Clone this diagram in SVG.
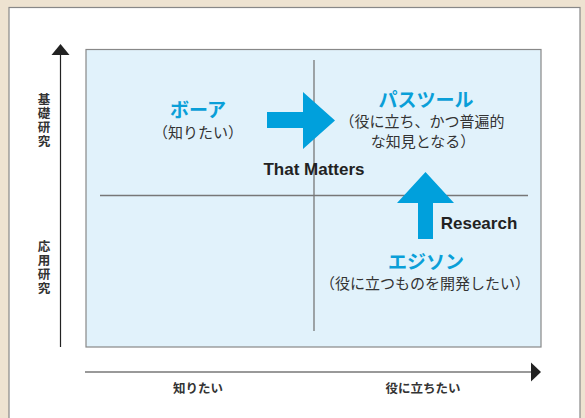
<svg xmlns="http://www.w3.org/2000/svg" width="585" height="418" viewBox="0 0 585 418">
<defs>
<style>
.jp{font-family:"Noto Sans CJK JP","Noto Sans",sans-serif;fill:#333}
.ax{font-size:12.5px;font-weight:bold}
.vt{writing-mode:vertical-rl;text-orientation:upright;letter-spacing:1.5px}
.ttl{font-size:19px;font-weight:bold;fill:#0a9fd8}
.sub{font-size:15px}
.en{font-family:"Liberation Sans",Arial,sans-serif;font-weight:bold;font-size:17px;fill:#222}
.ln{stroke:#777;stroke-width:1.3;fill:none}
.blue{fill:#00a0dc}
</style>
</defs>
<rect x="0" y="0" width="585" height="418" fill="#eee3d1"/>
<rect x="9" y="7.5" width="571" height="420" fill="#fff" stroke="#888" stroke-width="1.2"/>
<rect id="quad" x="86" y="49.5" width="455" height="297.5" fill="#e1f2fb" stroke="#888" stroke-width="1.2"/>
<g id="connectors">
<line class="ln" x1="314" y1="60" x2="314" y2="331"/>
<line class="ln" x1="100" y1="195.5" x2="528" y2="195.5"/>
<line x1="60.5" y1="54" x2="60.5" y2="347" stroke="#222" stroke-width="1.2"/>
<polygon points="60.5,44 51.5,55 69.5,55" fill="#222"/>
<line x1="85" y1="372" x2="532" y2="372" stroke="#777" stroke-width="1.5"/>
<polygon points="541,372 531,362.5 531,381.5" fill="#222"/>
<polygon id="arrowRight" class="blue" points="267,112 303,112 303,92 335,120.5 303,149 303,128 267,128"/>
<polygon id="arrowUp" class="blue" points="418,239 418,203 397,203 425.5,172 454,203 433,203 433,239"/>
</g>
<g id="yLabelTop"><text class="jp ax vt" x="44" y="93">基礎研究</text></g>
<g id="yLabelBottom"><text class="jp ax vt" x="44" y="240">応用研究</text></g>
<g id="xLabelLeft"><text class="jp ax" x="198" y="393" text-anchor="middle">知りたい</text></g>
<g id="xLabelRight"><text class="jp ax" x="423" y="393" text-anchor="middle">役に立ちたい</text></g>
<g id="bohr">
<text class="jp ttl" x="198" y="116.5" text-anchor="middle">ボーア</text>
<text class="jp sub" x="198" y="138" text-anchor="middle">（知りたい）</text>
</g>
<g id="pasteur">
<text class="jp ttl" x="426" y="107" text-anchor="middle">パスツール</text>
<text class="jp sub" x="422" y="127" text-anchor="middle">（役に立ち、かつ普遍的</text>
<text class="jp sub" x="423" y="147" text-anchor="middle">な知見となる）</text>
</g>
<g id="thatMatters"><text class="en" x="314" y="175" text-anchor="middle">That Matters</text></g>
<g id="research"><text class="en" x="479" y="229" text-anchor="middle">Research</text></g>
<g id="edison">
<text class="jp ttl" x="426" y="269" text-anchor="middle">エジソン</text>
<text class="jp sub" x="425" y="289" text-anchor="middle">（役に立つものを開発したい）</text>
</g>
</svg>
